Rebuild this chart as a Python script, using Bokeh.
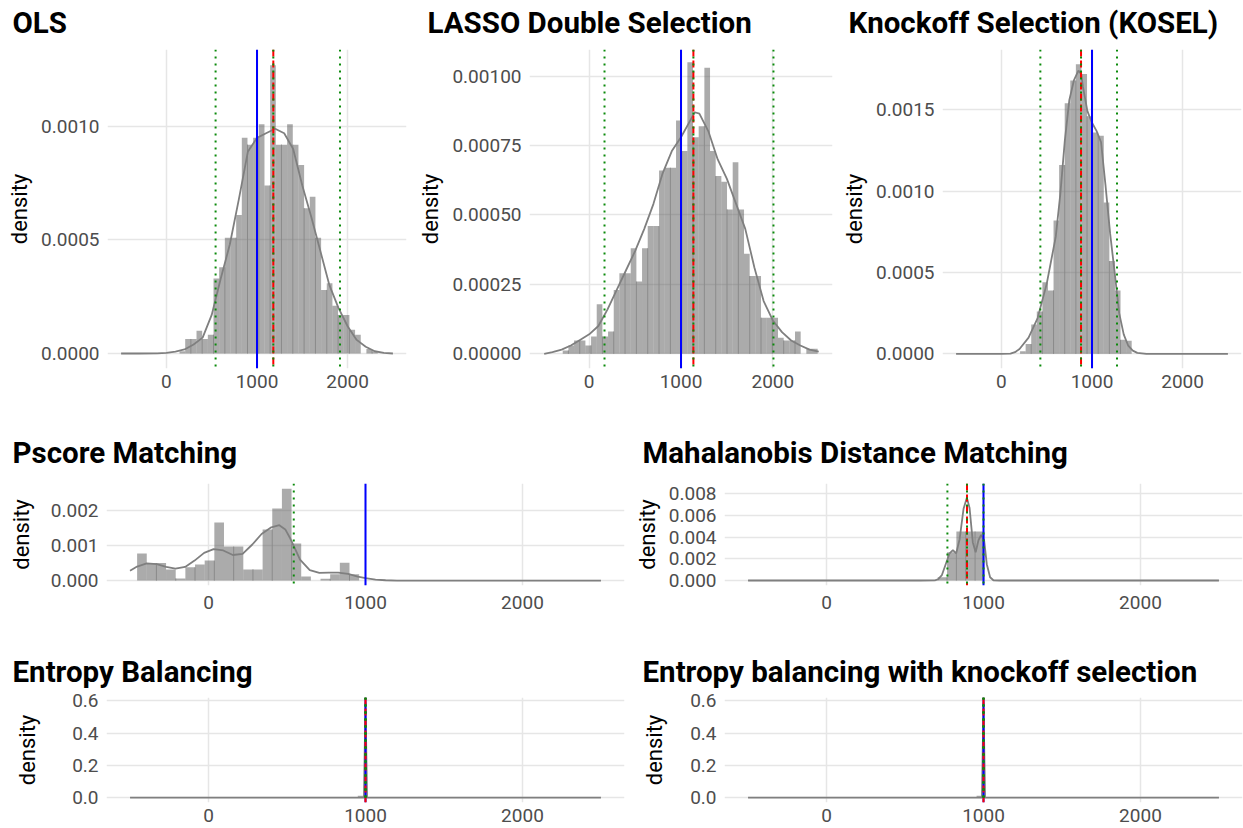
import numpy as np
from bokeh.plotting import figure
from bokeh.layouts import column, row
from bokeh.models import Range1d, FixedTicker, PrintfTickFormatter, Span
from bokeh.embed import file_html
from bokeh.resources import INLINE

# ---------------- data ----------------
x_ticks = [0, 1000, 2000]

ols_title = "OLS"
ols_hist_start, ols_hist_width = 145, 62.5
ols_hist = [0.00001, 0.000064, 0.000064, 0.0001, 0.000064, 0.000083, 0.00033, 0.00038,
            0.00051, 0.00051, 0.00061, 0.00095, 0.00092, 0.00095, 0.00101, 0.00074,
            0.00127, 0.00092, 0.00092, 0.00101, 0.00092, 0.00083, 0.00064, 0.00069,
            0.00051, 0.00028, 0.00031, 0.00021, 0.00017, 0.00017, 0.000105, 0.000083,
            0.0, 0.00002, 0.00001]
ols_dens_x = [-500, -300, -100, 0, 100, 200, 300, 400, 500, 600, 700, 800, 900, 1000, 1100,
              1200, 1300, 1400, 1500, 1600, 1700, 1800, 1900, 2000, 2100, 2200, 2300, 2400, 2500]
ols_dens_y = [0, 0, 0.000001, 0.000003, 0.000008, 0.000018, 0.00004, 0.00007, 0.00017, 0.00033,
              0.00048, 0.00068, 0.00089, 0.00095, 0.00097, 0.00099, 0.00097, 0.0009, 0.00074,
              0.0006, 0.00045, 0.0003, 0.0002, 0.00012, 0.00006, 0.00003, 0.00001, 0.000003, 0]
ols_true, ols_est, ols_ci = 1000, 1180, [543, 1180, 1916]

lasso_title = "LASSO Double Selection"
lasso_hist_start, lasso_hist_width = -288, 61.7
lasso_hist = [0.000012, 0.00003, 0.000048, 0.000048, 0.00003, 0.000062, 0.000178, 0.000062,
              0.00008, 0.00023, 0.00029, 0.00029, 0.00038, 0.00026, 0.00038, 0.00046, 0.00046,
              0.00066, 0.00067, 0.00067, 0.00084, 0.00073, 0.00105, 0.00078, 0.00082, 0.00103,
              0.00073, 0.00064, 0.00062, 0.00052, 0.00069, 0.00052, 0.00036, 0.00028, 0.00028,
              0.00013, 0.00013, 0.00013, 0.000058, 0.000048, 0.000048, 0.00008, 0.0, 0.000018,
              0.000018]
lasso_dens_x = [-490, -400, -300, -200, -100, 0, 100, 200, 300, 400, 500, 600, 700, 800, 900,
                1000, 1100, 1150, 1200, 1300, 1400, 1500, 1600, 1700, 1800, 1900, 2000, 2100,
                2200, 2300, 2400, 2500]
lasso_dens_y = [0, 0.000006, 0.000015, 0.00003, 0.00005, 0.00007, 0.0001, 0.00016, 0.00023,
                0.0003, 0.00037, 0.00045, 0.00054, 0.00065, 0.00073, 0.00078, 0.00084, 0.00087,
                0.000865, 0.0008, 0.0007, 0.00063, 0.00054, 0.00045, 0.00031, 0.00019, 0.00012,
                0.000078, 0.000048, 0.00003, 0.000015, 0.000008]
lasso_true, lasso_est, lasso_ci = 1000, 1135, [167, 1135, 2007]

kosel_title = "Knockoff Selection (KOSEL)"
kosel_hist_start, kosel_hist_width = 206, 61.6
kosel_hist = [0.000016, 0.00006, 0.00018, 0.00026, 0.00044, 0.00039, 0.00082, 0.00116,
              0.00154, 0.00168, 0.00178, 0.00172, 0.00146, 0.00136, 0.00134, 0.00093,
              0.00057, 0.00039, 0.000086, 0.00008]
kosel_dens_x = [-500, 0, 100, 150, 200, 300, 400, 500, 600, 650, 700, 750, 800, 850, 880, 900,
                950, 1000, 1050, 1100, 1150, 1200, 1250, 1300, 1350, 1400, 1450, 1500, 1600, 2500]
kosel_dens_y = [0, 0, 0.000001, 0.00001, 0.00003, 0.0001, 0.00022, 0.00043, 0.00072, 0.00098,
                0.00131, 0.00156, 0.00168, 0.00174, 0.00172, 0.00164, 0.00149, 0.00142, 0.00137,
                0.0013, 0.00103, 0.00074, 0.0005, 0.00025, 0.00012, 0.00005, 0.00002, 0.000006,
                0, 0]
kosel_true, kosel_est, kosel_ci = 1000, 879, [430, 879, 1276]

pscore_title = "Pscore Matching"
pscore_hist_start, pscore_hist_width = -455, 61.5
pscore_hist = [0.00077, 0.0005, 0.0005, 0.00032, 0.00006, 0.00038, 0.00046, 0.00057, 0.00166,
               0.00097, 0.00097, 0.00032, 0.00032, 0.00146, 0.00206, 0.00262, 0.00106, 0.00012,
               0.0, 0.00005, 0.00018, 0.00051, 0.00018]
pscore_dens_x = [-500, -455, -394, -330, -270, -211, -149, -89, -28, 32, 94, 155, 217, 279, 338,
                 400, 451, 489, 521, 553, 583, 645, 706, 766, 826, 889, 951, 1000, 1064, 1128,
                 1200, 2500]
pscore_dens_y = [0.00028, 0.0004, 0.00049, 0.00047, 0.00039, 0.00034, 0.00039, 0.00057, 0.00079,
                 0.0009, 0.00086, 0.00073, 0.00076, 0.00103, 0.00133, 0.00152, 0.00158, 0.00146,
                 0.0012, 0.00089, 0.0006, 0.0003, 0.00022, 0.00023, 0.00023, 0.00019, 0.00011,
                 0.00007, 0.00003, 0.00001, 0, 0]
pscore_true, pscore_est, pscore_ci = 1000, None, [543]

maha_title = "Mahalanobis Distance Matching"
maha_hist_start, maha_hist_width = 708, 59.6
maha_hist = [0.0003, 0.0026, 0.0045, 0.0045, 0.0045]
maha_dens_x = [-500, 600, 690, 710, 735, 757, 784, 805, 826, 848, 873, 894, 911, 932, 950, 968,
               985, 1004, 1021, 1042, 1063, 1100, 2500]
maha_dens_y = [0, 0, 0.00002, 0.0001, 0.0005, 0.0014, 0.0025, 0.0028, 0.0025, 0.0038, 0.0066,
               0.0076, 0.0067, 0.0035, 0.0026, 0.0037, 0.0042, 0.0037, 0.0015, 0.0003, 0.00002,
               0, 0]
maha_true, maha_est, maha_ci = 1000, 895, [770, 895, 1000]

ebal_title = "Entropy Balancing"
ebal_hist_start, ebal_hist_width = 951, 38
ebal_hist = [0.0126]
ebal_dens_x = [-500, 990, 1000, 1010, 2500]
ebal_dens_y = [0, 0, 0.59, 0, 0]
ebal_true, ebal_est, ebal_ci = 1000, 1000, [1000, 1000, 1000]

ebko_title = "Entropy balancing with knockoff selection"
ebko_hist_start, ebko_hist_width = 956, 40
ebko_hist = [0.012]
ebko_dens_x = [-500, 990, 1000, 1010, 2500]
ebko_dens_y = [0, 0, 0.59, 0, 0]
ebko_true, ebko_est, ebko_ci = 1000, 1000, [1000, 1000, 1000]

# ---------------- styling helpers ----------------
FONT = "Roboto"
GRID = "#e6e6e6"


def panel(title, h_start, h_width, hist, dx, dy, true_v, est_v, ci_v,
          w, h, bl, br, bt, bb, y0, y1, yticks, fmt, sep_off=0, sep_step=2,
          title_standoff=15, xlab_standoff=6, ylab_standoff=6, margin=None):
    p = figure(width=w, height=h, x_range=Range1d(-650, 2650), y_range=Range1d(y0, y1),
               output_backend="svg", toolbar_location=None,
               min_border_left=bl, min_border_right=br, min_border_top=bt, min_border_bottom=bb,
               title=title)
    if margin is not None:
        p.margin = margin
    p.outline_line_color = None
    p.background_fill_color = "white"
    p.border_fill_color = "white"

    p.title.text_font = FONT
    p.title.text_font_style = "bold"
    p.title.text_font_size = "29.5px"
    p.title.text_color = "black"
    p.title.align = "left"
    p.title.offset = -(bl - 12)
    p.title.standoff = title_standoff

    p.xaxis.ticker = FixedTicker(ticks=x_ticks)
    p.yaxis.ticker = FixedTicker(ticks=yticks)
    p.yaxis.formatter = PrintfTickFormatter(format=fmt)
    for ax in (p.xaxis[0], p.yaxis[0]):
        ax.axis_line_color = None
        ax.major_tick_line_color = None
        ax.minor_tick_line_color = None
        ax.major_tick_out = 0
        ax.major_tick_in = 0
        ax.minor_tick_out = 0
        ax.minor_tick_in = 0
        ax.major_label_text_font = FONT
        ax.major_label_text_font_size = "19px"
        ax.major_label_text_color = "#4d4d4d"
    p.xaxis.major_label_standoff = xlab_standoff
    p.yaxis.major_label_standoff = 8
    p.yaxis.axis_label = "density"
    p.yaxis.axis_label_text_font = FONT
    p.yaxis.axis_label_text_font_style = "normal"
    p.yaxis.axis_label_text_font_size = "22px"
    p.yaxis.axis_label_text_color = "black"
    p.yaxis.axis_label_standoff = ylab_standoff

    p.xgrid.grid_line_color = GRID
    p.ygrid.grid_line_color = GRID
    p.xgrid.grid_line_width = 1.5
    p.ygrid.grid_line_width = 1.5

    hist = np.asarray(hist, dtype=float)
    edges = h_start + h_width * np.arange(len(hist) + 1)
    p.quad(left=edges[:-1], right=edges[1:], bottom=0, top=hist,
           fill_color="#4d4d4d", fill_alpha=0.47, line_color=None)
    idx = np.arange(1, len(hist))
    sel = idx[(idx - sep_off) % sep_step == 0]
    if len(sel):
        tops = np.minimum(hist[sel - 1], hist[sel])
        p.segment(x0=edges[sel], y0=np.zeros(len(sel)), x1=edges[sel], y1=tops,
                  line_color="#8a8a8a", line_width=1)
    p.line(dx, dy, line_color="#7f7f7f", line_width=1.8)

    p.add_layout(Span(location=true_v, dimension="height", line_color="#0000ff", line_width=2))
    if est_v is not None:
        p.add_layout(Span(location=est_v, dimension="height", line_color="#ff0000",
                          line_width=2, line_dash="7 4"))
    for c in ci_v:
        p.add_layout(Span(location=c, dimension="height", line_color="#0b8a0b",
                          line_width=2, line_dash="2 5"))
    return p


TOP_MARGIN = (-7, 0, 0, 0)
f1 = panel(ols_title, ols_hist_start, ols_hist_width, ols_hist, ols_dens_x, ols_dens_y,
           ols_true, ols_est, ols_ci, 415, 412, 107, 9, 56, 37, -0.000066, 0.001339,
           [0, 0.0005, 0.001], "%.4f", sep_off=0, title_standoff=20, xlab_standoff=6,
           margin=TOP_MARGIN)
f2 = panel(lasso_title, lasso_hist_start, lasso_hist_width, lasso_hist, lasso_dens_x, lasso_dens_y,
           lasso_true, lasso_est, lasso_ci, 421, 412, 114, 4, 56, 37, -0.000053, 0.001096,
           [0, 0.00025, 0.0005, 0.00075, 0.001], "%.5f", sep_off=1, title_standoff=20,
           xlab_standoff=6, margin=TOP_MARGIN)
f3 = panel(kosel_title, kosel_hist_start, kosel_hist_width, kosel_hist, kosel_dens_x, kosel_dens_y,
           kosel_true, kosel_est, kosel_ci, 407, 412, 106, 2, 56, 37, -0.00009, 0.00187,
           [0, 0.0005, 0.001, 0.0015], "%.4f", sep_off=0, title_standoff=20, xlab_standoff=6,
           margin=TOP_MARGIN)
f4 = panel(pscore_title, pscore_hist_start, pscore_hist_width, pscore_hist, pscore_dens_x,
           pscore_dens_y, pscore_true, pscore_est, pscore_ci, 630, 215, 106, 6, 78, 35,
           -0.00014, 0.00277, [0, 0.001, 0.002], "%.3f", sep_off=0, title_standoff=28,
           xlab_standoff=10, ylab_standoff=14)
f5 = panel(maha_title, maha_hist_start, maha_hist_width, maha_hist, maha_dens_x, maha_dens_y,
           maha_true, maha_est, maha_ci, 613, 215, 94, 1, 78, 35, -0.00046, 0.00892,
           [0, 0.002, 0.004, 0.006, 0.008], "%.3f", sep_off=0, sep_step=1, title_standoff=28,
           xlab_standoff=10, ylab_standoff=6)
f6 = panel(ebal_title, ebal_hist_start, ebal_hist_width, ebal_hist, ebal_dens_x, ebal_dens_y,
           ebal_true, ebal_est, ebal_ci, 630, 208, 106, 6, 77, 26, -0.0296, 0.621,
           [0, 0.2, 0.4, 0.6], "%.1f", title_standoff=18, xlab_standoff=6, ylab_standoff=29)
f7 = panel(ebko_title, ebko_hist_start, ebko_hist_width, ebko_hist, ebko_dens_x, ebko_dens_y,
           ebko_true, ebko_est, ebko_ci, 613, 208, 94, 1, 77, 26, -0.0296, 0.621,
           [0, 0.2, 0.4, 0.6], "%.1f", title_standoff=18, xlab_standoff=6, ylab_standoff=20)

layout = column(row(f1, f2, f3, spacing=0), row(f4, f5, spacing=0), row(f6, f7, spacing=0),
                spacing=0)

open("out.html", "w").write(file_html(layout, INLINE))
